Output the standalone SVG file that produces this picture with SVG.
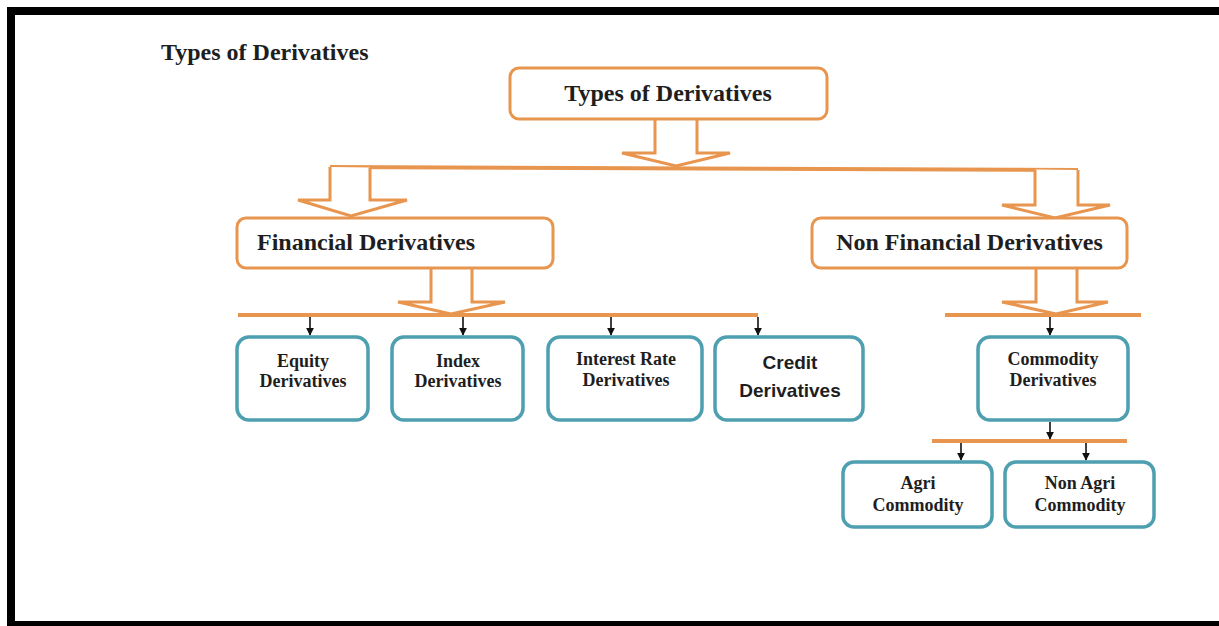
<svg xmlns="http://www.w3.org/2000/svg" width="1219" height="626" viewBox="0 0 1219 626">
<defs>
<style>
.ob{fill:#fff;stroke:#E8964F;stroke-width:3}
.tb{fill:#fff;stroke:#4E9FB0;stroke-width:3.5}
.bt{font-family:"Liberation Serif",serif;font-weight:bold;fill:#1e1e1e}
.big{font-size:24px}
.sm{font-size:18px;text-anchor:middle}
.sans{font-family:"Liberation Sans",Arial,sans-serif;font-weight:bold;font-size:19px;text-anchor:middle;fill:#1e1e1e}
.hl{stroke:#E8964F;stroke-width:4;fill:none}
.ba{fill:#fff;stroke:#E8964F;stroke-width:3;stroke-linejoin:miter}
.sa{stroke:#111;stroke-width:1.6;fill:none;marker-end:url(#ah)}
</style>
<marker id="ah" viewBox="0 0 10 10" refX="9" refY="5" markerWidth="5" markerHeight="5" markerUnits="strokeWidth" orient="auto">
<path d="M0,0 L10,5 L0,10 Z" fill="#111"/>
</marker>
</defs>
<rect width="1219" height="626" fill="#fff"/>
<g id="frame" fill="#000">
<rect x="7" y="7" width="1212" height="8"/>
<rect x="7" y="7" width="8" height="619"/>
<rect x="7" y="621" width="1212" height="5"/>
</g>
<text class="bt big" x="161" y="60">Types of Derivatives</text>
<g id="connectors">
<line class="hl" x1="330" y1="167" x2="1078" y2="170"/>
<line class="hl" x1="238" y1="315" x2="758" y2="315"/>
<line class="hl" x1="945" y1="315" x2="1141" y2="315"/>
<line class="hl" x1="932" y1="441" x2="1127" y2="441"/>
<path class="ba" d="M655,119 L655,153 L622,153 L676,166 L730,153 L697,153 L697,119"/>
<path class="ba" d="M330,167 L330,200 L298,200 L351,216 L407,200 L370,200 L370,167.5"/>
<path class="ba" d="M1035,169.5 L1035,205 L1002,205 L1055,218 L1110,205 L1078,205 L1078,170"/>
<path class="ba" d="M431,268 L431,302 L398,302 L451,314 L505,302 L472,302 L472,268"/>
<path class="ba" d="M1036,268 L1036,302 L1002,302 L1056,314 L1108,302 L1077,302 L1077,268"/>
<line class="sa" x1="310" y1="317" x2="310" y2="335"/>
<line class="sa" x1="463" y1="317" x2="463" y2="335"/>
<line class="sa" x1="611" y1="317" x2="611" y2="335"/>
<line class="sa" x1="758" y1="317" x2="758" y2="335"/>
<line class="sa" x1="1050" y1="317" x2="1050" y2="335"/>
<line class="sa" x1="1050" y1="422" x2="1050" y2="439"/>
<line class="sa" x1="961" y1="443" x2="961" y2="460"/>
<line class="sa" x1="1086" y1="443" x2="1086" y2="460"/>
</g>
<g id="n-types">
<rect class="ob" x="510" y="68" width="317" height="51" rx="9"/>
<text class="bt big" x="668" y="101" text-anchor="middle">Types of Derivatives</text>
</g>
<g id="n-financial">
<rect class="ob" x="237" y="218" width="316" height="50" rx="9"/>
<text class="bt big" x="257" y="250">Financial Derivatives</text>
</g>
<g id="n-nonfinancial">
<rect class="ob" x="812" y="218" width="315" height="50" rx="9"/>
<text class="bt big" x="969.5" y="250" text-anchor="middle">Non Financial Derivatives</text>
</g>
<g id="n-equity">
<rect class="tb" x="237" y="337" width="131" height="83" rx="12"/>
<text class="bt sm" x="303" y="367">Equity</text>
<text class="bt sm" x="303" y="387">Derivatives</text>
</g>
<g id="n-index">
<rect class="tb" x="392" y="337" width="131" height="83" rx="12"/>
<text class="bt sm" x="458" y="367">Index</text>
<text class="bt sm" x="458" y="387">Derivatives</text>
</g>
<g id="n-interest">
<rect class="tb" x="548" y="337" width="154" height="83" rx="12"/>
<text class="bt sm" x="626" y="365">Interest Rate</text>
<text class="bt sm" x="626" y="386">Derivatives</text>
</g>
<g id="n-credit">
<rect class="tb" x="715" y="337" width="148" height="83" rx="12"/>
<text class="sans" x="790" y="369">Credit</text>
<text class="sans" x="790" y="397">Derivatives</text>
</g>
<g id="n-commodity">
<rect class="tb" x="978" y="337" width="150" height="83" rx="12"/>
<text class="bt sm" x="1053" y="365">Commodity</text>
<text class="bt sm" x="1053" y="386">Derivatives</text>
</g>
<g id="n-agri">
<rect class="tb" x="843" y="462" width="149" height="65" rx="11"/>
<text class="bt sm" x="918" y="489">Agri</text>
<text class="bt sm" x="918" y="511">Commodity</text>
</g>
<g id="n-nonagri">
<rect class="tb" x="1005" y="462" width="149" height="65" rx="11"/>
<text class="bt sm" x="1080" y="489">Non Agri</text>
<text class="bt sm" x="1080" y="511">Commodity</text>
</g>
</svg>
